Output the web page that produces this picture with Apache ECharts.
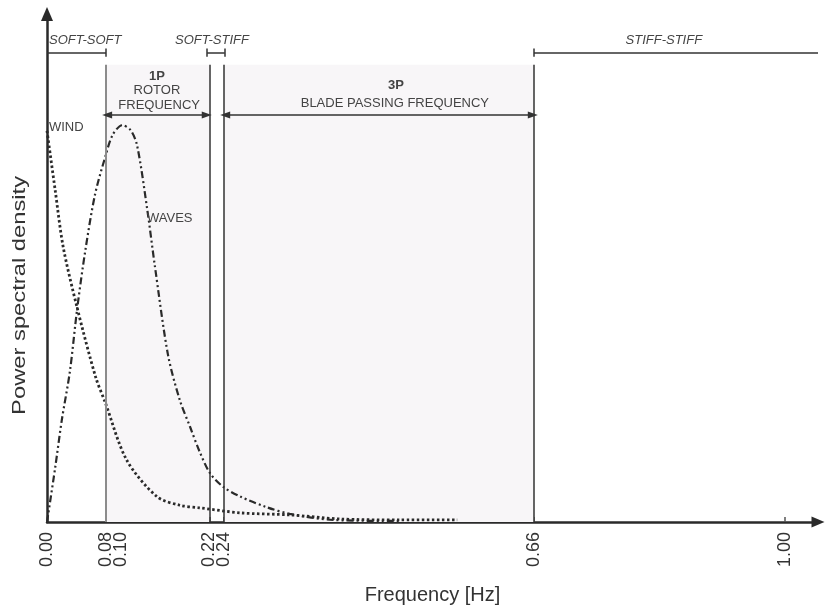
<!DOCTYPE html>
<html><head><meta charset="utf-8">
<script src="https://cdn.jsdelivr.net/npm/echarts@6/dist/echarts.min.js"></script>
<style>html,body{margin:0;padding:0;background:#fff}#c{width:825px;height:606px}</style>
</head><body><div id="c"></div>
<script>
// ---- data ----
const freqTicks = [0.00, 0.08, 0.10, 0.22, 0.24, 0.66, 1.00];
const windFreq = [0, 0.011, 0.022, 0.041, 0.066, 0.079, 0.108, 0.149, 0.180, 0.207, 0.262, 0.329, 0.397, 0.478, 0.556];
const windPSD  = [77, 65.4, 54.1, 42.1, 28.5, 23.5, 12.2, 5.0, 3.3, 2.8, 1.8, 1.4, 0.6, 0.4, 0.4];
const wavesFreq = [0, 0.011, 0.020, 0.031, 0.041, 0.052, 0.065, 0.079, 0.089, 0.102, 0.113, 0.122, 0.136, 0.146, 0.164, 0.180, 0.194, 0.207, 0.221, 0.239, 0.262, 0.298, 0.329, 0.388, 0.478];
const wavesPSD  = [0, 10.6, 20.0, 29.6, 42.1, 53.5, 64.4, 71.9, 76.2, 78.1, 77.2, 74.2, 61.4, 50.6, 32.9, 24.0, 18.7, 13.8, 9.6, 6.9, 5.0, 2.9, 1.6, 0.4, 0.2];
const boundaryFreqs = [0.08, 0.22, 0.24, 0.66];
const bandTopPSD = 90;
const shadedBands = [[0.08, 0.22], [0.24, 0.66]];
const regimeNames = ['SOFT-SOFT', 'SOFT-STIFF', 'STIFF-STIFF'];
const regimeRanges = [[0, 0.08], [0.217, 0.241], [0.66, 1.045]];
const regimeEndTicks = [[0.08], [0.217, 0.241], [0.66]];
const excitationRanges = [[0.0815, 0.2165], [0.2415, 0.6585]];

const FONT = '"Liberation Sans", Arial, Helvetica, sans-serif';
const INK = '#2a2a2a';
const TXT = '#444';

const chart = echarts.init(document.getElementById('c'), null, {renderer: 'canvas'});

const bracketY = 92.4, tickH = 0.8, arrowY = 80.1;
const solid = (color, width) => ({color: color, width: width, type: 'solid'});
const markLines = [];
boundaryFreqs.forEach((f, i) => {
  markLines.push([{coord: [f, 0], lineStyle: i === 0 ? solid('#8c8c8c', 2) : solid('#333', 1.5)}, {coord: [f, bandTopPSD]}]);
});
regimeRanges.forEach((r, i) => {
  markLines.push([{coord: [r[0], bracketY], lineStyle: solid('#333', 1.5)}, {coord: [r[1], bracketY]}]);
  regimeEndTicks[i].forEach(t => {
    markLines.push([{coord: [t, bracketY - tickH], lineStyle: solid('#333', 1.5)}, {coord: [t, bracketY + tickH]}]);
  });
});
excitationRanges.forEach(r => {
  markLines.push([{coord: [r[0], arrowY], symbol: 'triangle', lineStyle: solid('#333', 1.5)}, {coord: [r[1], arrowY], symbol: 'triangle'}]);
});

const option = {
  animation: false,
  backgroundColor: '#fff',
  grid: {left: 47, right: 7, top: 14, bottom: 84, containLabel: false, outerBoundsMode: 'none'},
  xAxis: {
    type: 'value', min: 0, max: 1.045,
    name: 'Frequency [Hz]', nameLocation: 'middle', nameGap: 63,
    nameTextStyle: {fontFamily: FONT, fontSize: 20, color: '#333'},
    axisLine: {show: true, symbol: ['none', 'triangle'], symbolSize: [11, 13], lineStyle: {color: INK, width: 2.5}},
    axisTick: {show: true, inside: true, length: 5, customValues: freqTicks, lineStyle: {color: '#555', width: 1.5}},
    axisLabel: {show: true, customValues: freqTicks, rotate: 90, margin: 10, fontFamily: FONT, fontSize: 18, color: '#333',
      formatter: v => v.toFixed(2)},
    splitLine: {show: false}
  },
  yAxis: {
    type: 'value', min: 0, max: 100,
    axisLine: {show: true, symbol: ['none', 'triangle'], symbolSize: [12, 14], lineStyle: {color: INK, width: 2.5}},
    axisTick: {show: false}, axisLabel: {show: false}, splitLine: {show: false}
  },
  series: [
    {
      type: 'line', name: 'frame', data: [[0, 0]], symbol: 'none', silent: true,
      lineStyle: {width: 0}, z: 1,
      markArea: {silent: true, itemStyle: {color: '#f8f6f8'},
        data: shadedBands.map(b => [{coord: [b[0], 0]}, {coord: [b[1], bandTopPSD]}])},
      markLine: {silent: true, symbol: ['none', 'none'], symbolSize: [7, 10], label: {show: false},
        lineStyle: {type: 'solid'}, emphasis: {disabled: true}, data: markLines}
    },
    {
      type: 'line', name: 'WIND', data: windFreq.map((f, i) => [f, windPSD[i]]),
      smooth: 0.3, symbol: 'none', silent: true, z: 3,
      lineStyle: {color: '#2a2a2a', width: 2.8, type: [2.5, 2.5]}
    },
    {
      type: 'line', name: 'WAVES', data: wavesFreq.map((f, i) => [f, wavesPSD[i]]),
      smooth: 0.3, symbol: 'none', silent: true, z: 3,
      lineStyle: {color: '#2a2a2a', width: 2.2, type: [7, 3, 2, 3, 2, 3]}
    }
  ]
};
chart.setOption(option);

// ---- text annotations placed through the axes ----
const annotations = [
  {text: regimeNames[0], at: [0.0027, 94.9], align: 'left', italic: true},
  {text: regimeNames[1], at: [0.2236, 94.9], align: 'center', italic: true},
  {text: regimeNames[2], at: [0.836, 94.9], align: 'center', italic: true},
  {text: '1P', at: [0.149, 87.8], align: 'center', bold: true},
  {text: 'ROTOR', at: [0.149, 85.0], align: 'center'},
  {text: 'FREQUENCY', at: [0.152, 82.1], align: 'center'},
  {text: '3P', at: [0.473, 86.0], align: 'center', bold: true},
  {text: 'BLADE PASSING FREQUENCY', at: [0.4715, 82.3], align: 'center'},
  {text: 'WIND', at: [0.0027, 77.6], align: 'left'},
  {text: 'WAVES', at: [0.1355, 59.8], align: 'left'}
];
const graphics = annotations.map(a => {
  const p = chart.convertToPixel({gridIndex: 0}, a.at);
  return {
    type: 'text', x: p[0], y: p[1], silent: true, z: 10,
    style: {text: a.text, fill: TXT, textAlign: a.align, textVerticalAlign: 'middle',
      font: (a.italic ? 'italic ' : '') + (a.bold ? 'bold ' : '') + '13px ' + FONT}
  };
});
// y-axis title, stretched along its length like the reference lettering
const yTitleAnchor = chart.convertToPixel({gridIndex: 0}, [0, 44.6]);
graphics.push({
  type: 'text', x: 20, y: yTitleAnchor[1], rotation: Math.PI / 2, scaleX: 1.25, silent: true,
  style: {text: 'Power spectral density', fill: '#333', textAlign: 'center', textVerticalAlign: 'middle',
    font: '19px ' + FONT}
});
chart.setOption({graphic: graphics});
</script>
</body></html>
